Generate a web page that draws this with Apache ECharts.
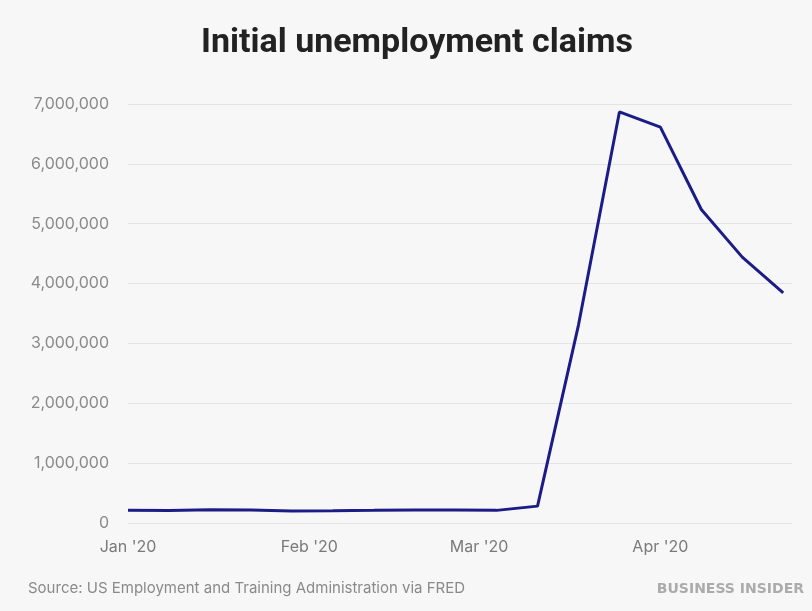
<!DOCTYPE html>
<html>
<head>
<meta charset="utf-8">
<script src="https://cdn.jsdelivr.net/npm/echarts@6/dist/echarts.min.js"></script>
<style>
  html, body { margin: 0; padding: 0; background: #f7f7f7; }
  #chart { width: 812px; height: 611px; }
</style>
</head>
<body>
<div id="chart"></div>
<script>
// weekly points as placed on the chart
var weeks = ['2020-01-01', '2020-01-08', '2020-01-15', '2020-01-22', '2020-01-29',
  '2020-02-05', '2020-02-12', '2020-02-19', '2020-02-26', '2020-03-04',
  '2020-03-11', '2020-03-18', '2020-03-25', '2020-04-01', '2020-04-08',
  '2020-04-15', '2020-04-22']
var claims = [214000, 207000, 223000, 216000, 202000, 205000, 211000, 219000, 216000,
  211000, 282000, 3307000, 6867000, 6615000, 5237000, 4442000, 3846000]
var monthTicks = ['2020-01-01', '2020-02-01', '2020-03-01', '2020-04-01']
var monthNames = ['Jan', 'Feb', 'Mar', 'Apr', 'May', 'Jun', 'Jul', 'Aug', 'Sep', 'Oct', 'Nov', 'Dec']

function toTime(s) {
  var p = s.split('-')
  return new Date(+p[0], +p[1] - 1, +p[2]).getTime()
}

var chart = echarts.init(document.getElementById('chart'))
chart.setOption({
  backgroundColor: '#f7f7f7',
  animation: false,
  title: {
    text: 'Initial unemployment claims',
    left: 196,
    top: 21,
    textStyle: {
      fontFamily: 'Roboto',
      fontWeight: 700,
      fontSize: 34,
      color: '#222'
    }
  },
  grid: {
    left: 128,
    right: 20,
    top: 104,
    bottom: 88
  },
  // timestamps on a plain value axis, labelled at month starts
  xAxis: {
    type: 'value',
    min: toTime('2020-01-01'),
    max: toTime('2020-04-23') + 12 * 3600 * 1000,
    axisLine: { show: false },
    axisTick: { show: false },
    splitLine: { show: false },
    axisLabel: {
      customValues: monthTicks.map(toTime),
      margin: 16,
      fontFamily: 'Inter',
      fontSize: 16,
      color: '#7a7a7a',
      formatter: function (v) {
        var d = new Date(v)
        return monthNames[d.getMonth()] + " '" + String(d.getFullYear()).slice(2)
      }
    }
  },
  yAxis: {
    type: 'value',
    min: 0,
    max: 7000000,
    interval: 1000000,
    axisLine: { show: false },
    axisTick: { show: false },
    splitLine: { lineStyle: { color: '#e3e3e3', width: 1 } },
    axisLabel: {
      margin: 19,
      fontFamily: 'Inter',
      fontSize: 16,
      color: '#8a8a8a',
      formatter: function (v) {
        return v.toLocaleString('en-US')
      }
    }
  },
  series: [
    {
      type: 'line',
      data: weeks.map(function (w, i) { return [toTime(w), claims[i]] }),
      showSymbol: false,
      lineStyle: { color: '#1c1c86', width: 3 }
    }
  ],
  graphic: [
    {
      type: 'text',
      left: 28,
      top: 581,
      style: {
        text: 'Source: US Employment and Training Administration via FRED',
        fontFamily: 'Inter',
        fontSize: 15,
        fill: '#8a8a8a'
      }
    },
    {
      type: 'text',
      right: 8,
      top: 582,
      style: {
        text: 'BUSINESS INSIDER',
        fontFamily: 'DejaVu Sans',
        fontWeight: 'bold',
        fontSize: 14,
        fill: '#ababab'
      }
    }
  ]
})
</script>
</body>
</html>
